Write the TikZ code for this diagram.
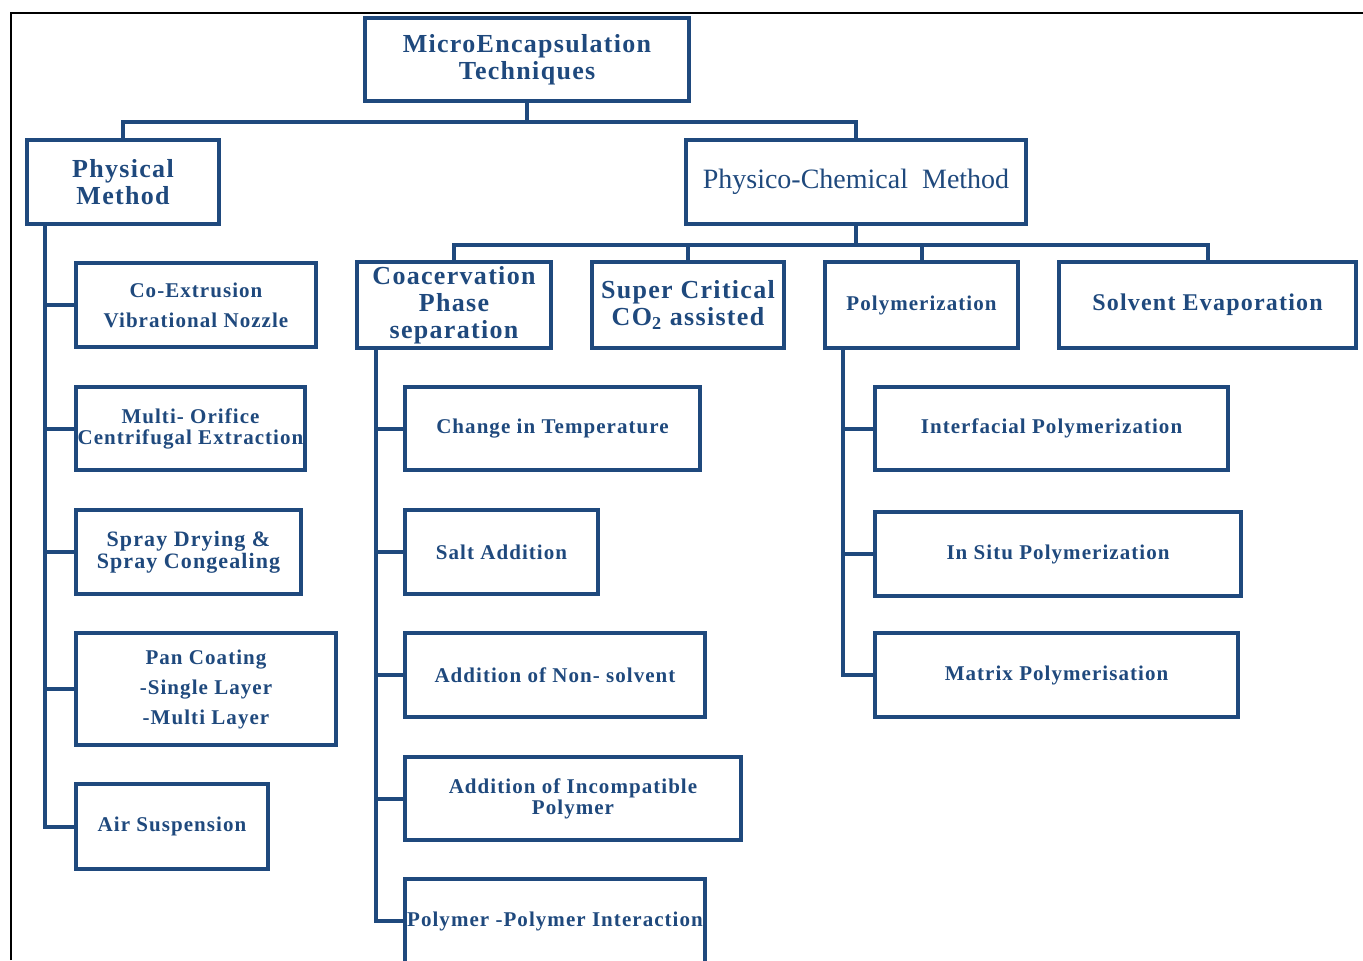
\documentclass[tikz,border=0pt]{standalone}
\usepackage{fontspec}
\setmainfont{Liberation Serif}
\newfontfamily\boxfont[LetterSpace=5]{Liberation Serif}
\usepackage{tikz}
\usetikzlibrary{positioning}
\definecolor{navy}{HTML}{1F497D}

\tikzset{
  techbox/.style={draw=navy, line width=2pt, text=navy, align=center, inner sep=0pt},
  wh/.style 2 args={minimum width=#1*0.5pt, minimum height=#2*0.5pt},
  bigtext/.style={font=\boxfont\bfseries\fontsize{13}{13.5}\selectfont},
  smalltext/.style={font=\boxfont\bfseries\fontsize{10.5}{10.5}\selectfont},
  link/.style={draw=navy, line width=2pt}
}

\begin{document}
\begin{tikzpicture}[x=0.5pt, y=-0.5pt]

\clip (0,0) rectangle (1363,960);
\draw[black, line width=1pt] (10.5,960) |- (1363,12.5);

% top levels
\node[techbox, bigtext, wh={324}{83}] (top) at (527,59.5) {MicroEncapsulation\\Techniques};
\node[techbox, bigtext, wh={192}{84}] (phys) at (123,182) {Physical\\Method};
\node[techbox, wh={340}{84}, font=\fontsize{14}{14}\selectfont] (chem) at (856,182) {Physico-Chemical\ \ Method};

\node[techbox, bigtext, wh={194}{86}] (coac) at (454,305) {Coacervation\\Phase\\separation};
\node[techbox, bigtext, wh={192}{86}] (scf) at (688,305) {Super Critical\\CO\textsubscript{2} assisted};
\node[techbox, smalltext, wh={193}{86}] (poly) at (921.5,305) {Polymerization};
\node[techbox, bigtext, wh={297}{86}, font=\boxfont\bfseries\fontsize{12}{12}\selectfont] (solv) at (1207.5,305) {Solvent Evaporation};

% physical methods
\node[techbox, smalltext, wh={240}{84}, font=\boxfont\bfseries\fontsize{10.5}{15}\selectfont] (coex) at (196,305) {Co-Extrusion\\Vibrational Nozzle};
\node[techbox, smalltext, wh={229}{83}] (orif) at (190.5,428.5) {Multi- Orifice\\Centrifugal Extraction};
\node[techbox, smalltext, wh={225}{84}, font=\boxfont\bfseries\fontsize{11}{11}\selectfont] (spray) at (188.5,552) {Spray Drying \&\\Spray Congealing};
\node[techbox, smalltext, wh={260}{112}, font=\boxfont\bfseries\fontsize{10.5}{15}\selectfont] (pan) at (206,689) {Pan Coating\\-Single Layer\\-Multi Layer};
\node[techbox, smalltext, wh={192}{85}] (air) at (172,826.5) {Air Suspension};

% coacervation
\node[techbox, smalltext, wh={295}{83}] (temp) at (552.5,428.5) {Change in Temperature};
\node[techbox, smalltext, wh={193}{84}] (salt) at (501.5,552) {Salt Addition};
\node[techbox, smalltext, wh={300}{84}] (nons) at (555,675) {Addition of Non- solvent};
\node[techbox, smalltext, wh={336}{83}] (incomp) at (573,798.5) {Addition of Incompatible\\Polymer};
\node[techbox, smalltext, wh={300}{84}] (ppi) at (555,921) {Polymer -Polymer Interaction};

% polymerization
\node[techbox, smalltext, wh={353}{83}] (inter) at (1051.5,428.5) {Interfacial Polymerization};
\node[techbox, smalltext, wh={366}{84}] (insitu) at (1058,554) {In Situ Polymerization};
\node[techbox, smalltext, wh={363}{84}] (matrix) at (1056.5,675) {Matrix Polymerisation};

\path[link] (top.south) -- ++(0,19) -| (phys.north);
\path[link] (top.south) -- ++(0,19) -| (chem.north);

\foreach \n in {coac,scf,poly,solv}
  \path[link] (chem.south) -- ++(0,19) -| (\n.north);

\coordinate (physT) at ([xshift=10pt]phys.south west);
\coordinate (coacT) at ([xshift=10.5pt]coac.south west);
\coordinate (polyT) at ([xshift=10pt]poly.south west);

\foreach \n in {coex,orif,spray,pan,air}
  \path[link] (physT) |- (\n.west);
\foreach \n in {temp,salt,nons,incomp,ppi}
  \path[link] (coacT) |- (\n.west);
\foreach \n in {inter,insitu,matrix}
  \path[link] (polyT) |- (\n.west);

\end{tikzpicture}
\end{document}
